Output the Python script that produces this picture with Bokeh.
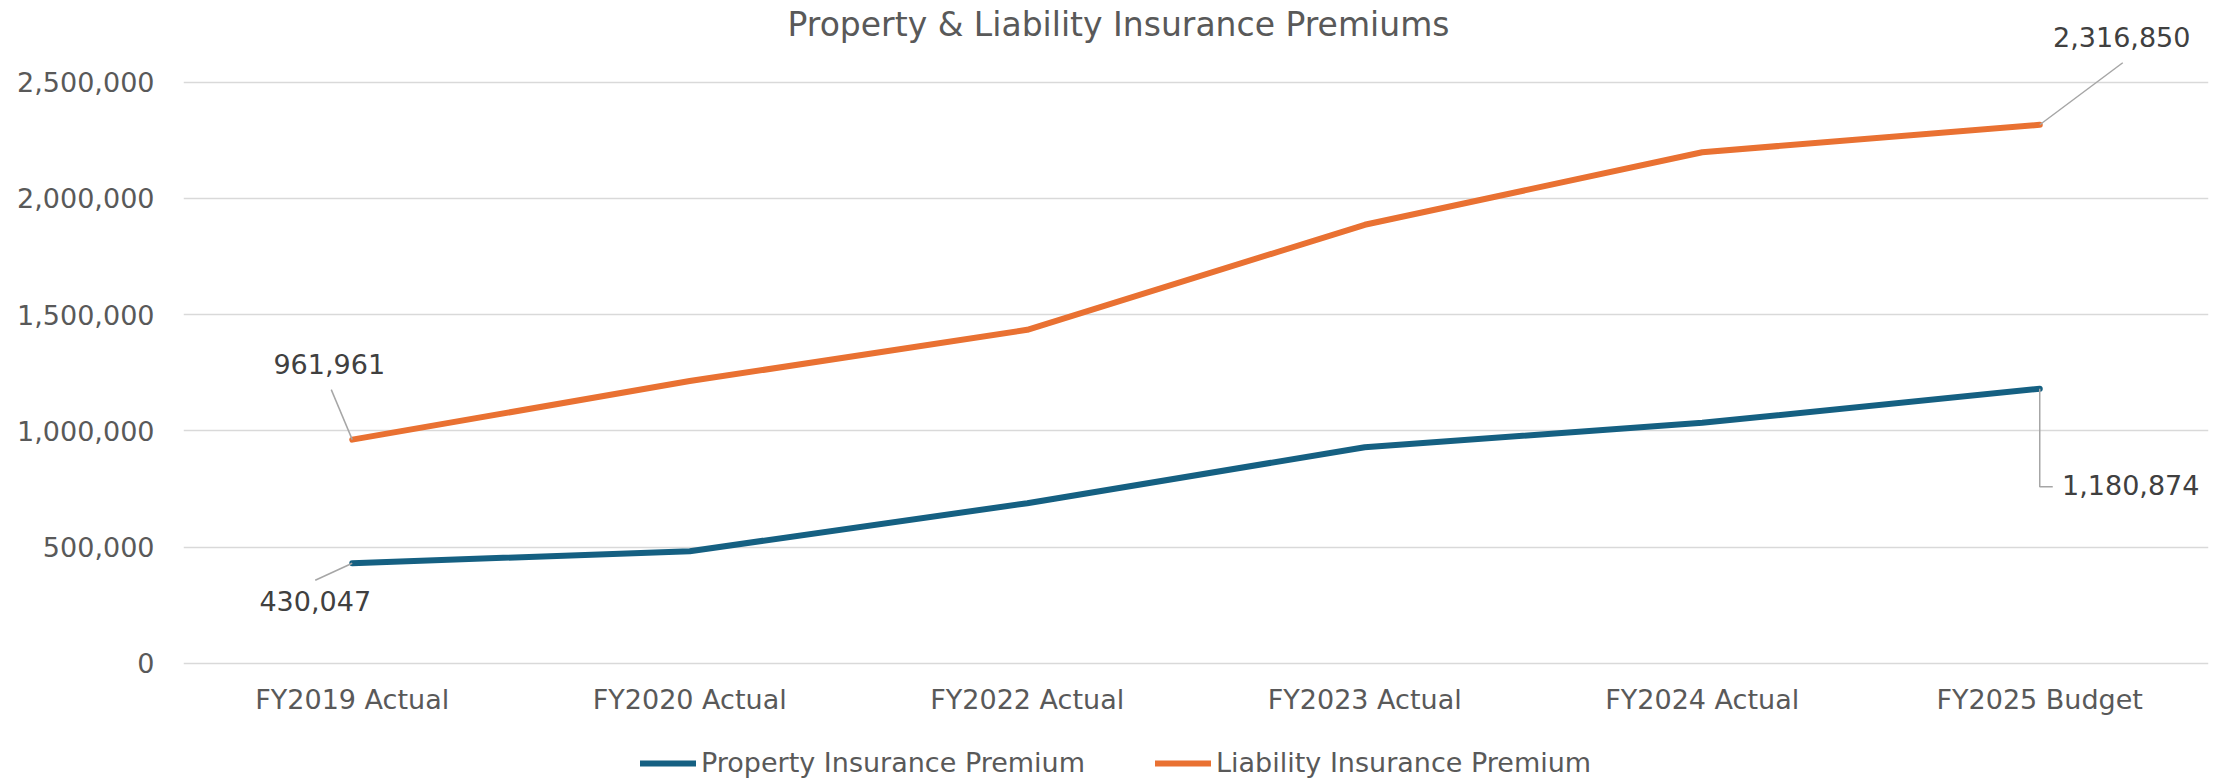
from bokeh.plotting import figure
from bokeh.models import (FactorRange, Range1d, FixedTicker, NumeralTickFormatter,
                          Legend, LegendItem)
from bokeh.core.properties import value
from bokeh.embed import file_html
from bokeh.resources import INLINE

# ---------------- data ----------------
categories = ["FY2019 Actual", "FY2020 Actual", "FY2022 Actual",
              "FY2023 Actual", "FY2024 Actual", "FY2025 Budget"]
property_premium = [430047, 482000, 688500, 929400, 1034400, 1180874]
liability_premium = [961961, 1214000, 1434600, 1886400, 2198800, 2316850]
y_ticks = [0, 500000, 1000000, 1500000, 2000000, 2500000]
series_names = ["Property Insurance Premium", "Liability Insurance Premium"]
title_text = "Property & Liability Insurance Premiums"

# ---------------- style / layout ----------------
FONT = "DejaVu Sans"
TXT = "#595959"
LBL = "#404040"
BLUE = "#156082"
ORANGE = "#E97132"
GRID = "#D9D9D9"
LEADER = "#A6A6A6"

W, H = 2221, 781
B_LEFT, B_RIGHT = 183, 13
FRAME_W = W - B_LEFT - B_RIGHT
ZERO_Y = 662.7            # px (from top) of value 0
PX_PER_UNIT = 232.4e-6    # px per unit of value
y_end = ZERO_Y / PX_PER_UNIT
y_start = (ZERO_Y - H) / PX_PER_UNIT
BAND = FRAME_W / len(categories)


def px_x(px):
    """screen x (from left of figure) -> synthetic categorical coordinate"""
    return (px - B_LEFT) / BAND


def px_y(py):
    """screen y (from top of figure) -> data value"""
    return (ZERO_Y - py) / PX_PER_UNIT


p = figure(width=W, height=H, output_backend="svg", toolbar_location=None,
           x_range=FactorRange(*categories, range_padding=0),
           y_range=Range1d(y_start, y_end),
           min_border_left=B_LEFT, min_border_right=B_RIGHT,
           min_border_top=0, min_border_bottom=0)
p.outline_line_color = None
p.background_fill_color = "white"
p.border_fill_color = "white"

# axes
p.yaxis.ticker = FixedTicker(ticks=y_ticks)
p.yaxis.formatter = NumeralTickFormatter(format="0,0")
p.ygrid.ticker = FixedTicker(ticks=y_ticks)
p.ygrid.grid_line_color = GRID
p.ygrid.grid_line_width = 1.5
p.xgrid.grid_line_color = None
for ax in (p.xaxis, p.yaxis):
    ax.axis_line_color = None
    ax.major_tick_line_color = None
    ax.minor_tick_line_color = None
    ax.major_label_text_font = FONT
    ax.major_label_text_font_size = "27px"
    ax.major_label_text_color = TXT
p.yaxis.major_label_standoff = 23
p.xaxis.fixed_location = 0
p.xaxis.major_label_standoff = 15

# title
p.text(x=[px_x(1118)], y=[px_y(24)], text=[title_text], text_align="center",
       text_baseline="middle", text_font=value(FONT), text_font_size="33px",
       text_color=TXT)

# lines
r_prop = p.line(categories, property_premium, line_width=6, line_color=BLUE,
                line_join="round", line_cap="round")
r_liab = p.line(categories, liability_premium, line_width=6, line_color=ORANGE,
                line_join="round", line_cap="round")

# data labels (first and last point of each series); offsets in px (right, up)
lab_idx = [0, 0, len(categories) - 1, len(categories) - 1]
lab_vals = [liability_premium[0], property_premium[0],
            liability_premium[-1], property_premium[-1]]
lab_off = [(-23, 76), (-37, -38), (82, 88), (91, -96)]
p.text(x=[i + 0.5 + dx / BAND for i, (dx, dy) in zip(lab_idx, lab_off)],
       y=[v + dy / PX_PER_UNIT for v, (dx, dy) in zip(lab_vals, lab_off)],
       text=[f"{v:,}" for v in lab_vals], text_align="center",
       text_baseline="middle", text_font=value(FONT), text_font_size="27px",
       text_color=LBL)

# leader lines, given as pixel offsets from the data point (right, up)
leader_px = [
    [(0, 0), (-21, 50)],
    [(0, 0), (-37, -17)],
    [(0, 0), (83, 62)],
    [(0, 0), (0, -98), (13, -98)],
]
xs, ys = [], []
for i, v, pts in zip(lab_idx, lab_vals, leader_px):
    xs.append([i + 0.5 + dx / BAND for dx, dy in pts])
    ys.append([v + dy / PX_PER_UNIT for dx, dy in pts])
p.multi_line(xs, ys, line_color=LEADER, line_width=1.5)

legend = Legend(items=[LegendItem(label=series_names[0], renderers=[r_prop]),
                       LegendItem(label=series_names[1], renderers=[r_liab])],
                orientation="horizontal", location=(640 - B_LEFT, 3),
                glyph_width=56, glyph_height=20, label_standoff=5, spacing=70,
                label_text_font=FONT, label_text_font_size="27px",
                label_text_color=TXT, border_line_color=None,
                background_fill_alpha=0, padding=0, margin=0)
p.add_layout(legend, "center")

open("out.html", "w").write(file_html(p, INLINE))
